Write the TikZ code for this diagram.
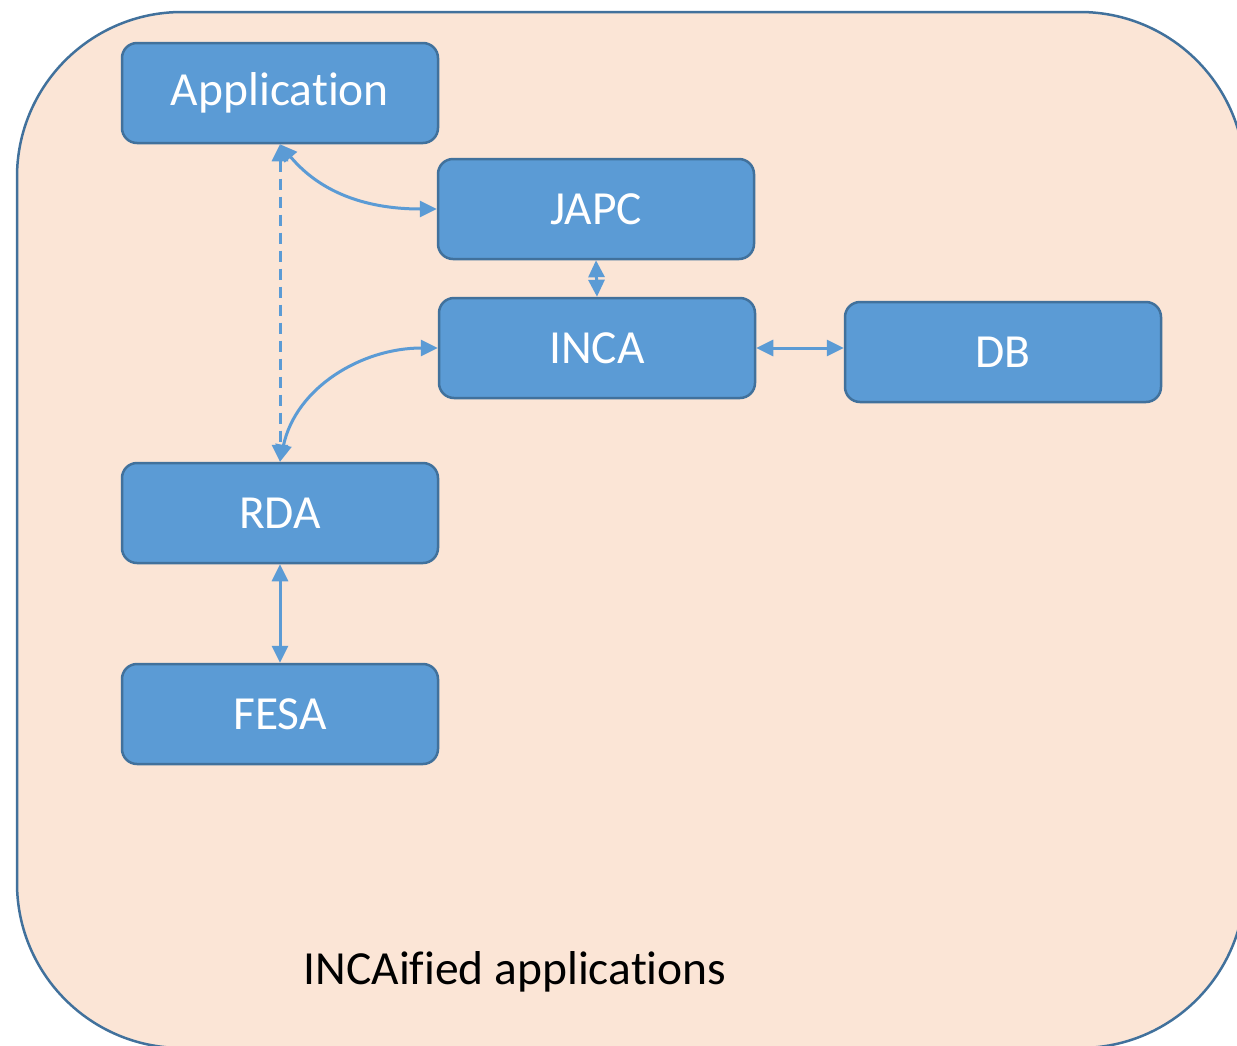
\documentclass[tikz,border=0pt]{standalone}
\usepackage{fontspec}
\setmainfont{Carlito}[Ligatures=NoCommon]
\usetikzlibrary{arrows.meta}
\definecolor{boxblue}{HTML}{5B9BD5}
\definecolor{boxedge}{HTML}{41719C}
\definecolor{peach}{HTML}{FBE5D6}
\begin{document}
\begin{tikzpicture}[
    x=1pt, y=1pt,
    comp/.style={draw=boxedge, line width=2.5pt, fill=boxblue, rounded corners=15pt, minimum width=316pt, minimum height=100pt, text=white, font=\fontsize{47.5}{56}\selectfont},
    link/.style={draw=boxblue, line width=3pt, {Triangle[length=17pt, width=16pt]}-{Triangle[length=17pt, width=16pt]}}
]
\path[use as bounding box, clip] (0,0) rectangle (1237,-1045);
% background area
\draw[draw=boxedge, line width=2.5pt, fill=peach, rounded corners=165pt] (17,-12) rectangle (1245,-1048);
\node[font=\fontsize{47.5}{56}\selectfont] (caption) at (515,-972) {INCAified applications};

\node[comp] (app) at (280,-93) {Application};
\node[comp] (japc) at (596,-209) {JAPC};
\node[comp] (inca) at (597,-348) {INCA};
\node[comp] (db) at (1003,-352) {DB};
\node[comp] (rda) at (280,-513) {RDA};
\node[comp] (fesa) at (280,-714) {FESA};

\draw[link] (app.south) to[out=-50, in=180] (japc.west);
\draw[link, dashed, dash pattern=on 11pt off 7pt] (app.south) -- (rda.north);
\draw[link] (japc.south) -- (inca.north);
\draw[link] (rda.north) to[out=78, in=180] (inca.west);
\draw[link] (inca.east) -- (inca.east -| db.west);
\draw[link] (rda.south) -- (fesa.north);
\end{tikzpicture}
\end{document}
